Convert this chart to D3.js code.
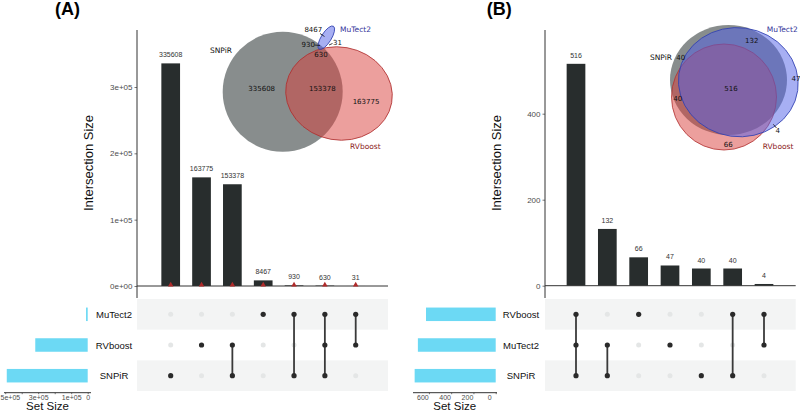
<!DOCTYPE html>
<html><head><meta charset="utf-8">
<script src="https://cdn.jsdelivr.net/npm/d3@7"></script>
<style>body{margin:0;background:#fff}svg{display:block}</style>
</head><body>
<svg id="c" width="800" height="412"></svg>
<script>
// ---------------- DATA ----------------
// Panel A
const setsA = ["MuTect2", "RVboost", "SNPiR"];
const interSizeA = [335608, 163775, 153378, 8467, 930, 630, 31];
const interMembersA = [["SNPiR"], ["RVboost"], ["RVboost", "SNPiR"], ["MuTect2"], ["MuTect2", "SNPiR"], ["MuTect2", "RVboost", "SNPiR"], ["MuTect2", "RVboost"]];
const setSizeA = [10058, 317814, 490546];
const yTicksA = [0, 100000, 200000, 300000];
const yTickLabelsA = ["0e+00", "1e+05", "2e+05", "3e+05"];
const setTicksA = [0, 100000, 200000, 300000, 400000, 500000];
const setTickLabelsA = ["0", "1e+05", "", "3e+05", "", "5e+05"];
const vennLabelsA = ["SNPiR", "MuTect2", "RVboost"];
// venn region counts A: SNPiR only, RVboost only, SNPiR&RVboost, MuTect2 only, MuTect2&SNPiR, all, MuTect2&RVboost
const vennCountsA = [335608, 163775, 153378, 8467, 930, 630, 31];

// Panel B
const setsB = ["RVboost", "MuTect2", "SNPiR"];
const interSizeB = [516, 132, 66, 47, 40, 40, 4];
const interMembersB = [["RVboost", "MuTect2", "SNPiR"], ["MuTect2", "SNPiR"], ["RVboost"], ["MuTect2"], ["SNPiR"], ["RVboost", "SNPiR"], ["RVboost", "MuTect2"]];
const setSizeB = [626, 699, 728];
const yTicksB = [0, 200, 400];
const yTickLabelsB = ["0", "200", "400"];
const setTicksB = [0, 200, 400, 600];
const setTickLabelsB = ["0", "200", "400", "600"];
const vennLabelsB = ["SNPiR", "MuTect2", "RVboost"];
// venn region counts B: all, MuTect2&SNPiR, RVboost only, MuTect2 only, SNPiR only, RVboost&SNPiR, RVboost&MuTect2
const vennCountsB = [516, 132, 66, 47, 40, 40, 4];

// ---------------- LAYOUT ----------------
const svg = d3.select("#c");
const UI = "'Liberation Sans', Arial, Helvetica, sans-serif";
const VF = "'DejaVu Sans', sans-serif";

function drawPanel(cfg, d) {
  const g = svg.append("g");
  // letter
  g.append("text").attr("x", cfg.letterX).attr("y", 14.5).text(cfg.letter)
    .attr("font-family", UI).attr("font-weight", "bold").attr("font-size", 18).attr("fill", "#000");

  // ---- intersection bars ----
  const y = d3.scaleLinear().domain([0, cfg.yRefVal]).range([cfg.y0, cfg.yRefPx]);
  const x = d3.scalePoint().domain(d3.range(d.sizes.length)).range([cfg.xFirst, cfg.xLast]);
  const bw = cfg.bw;

  // y axis
  const ax = d3.axisLeft(y).tickValues(d.yTicks).tickFormat((v, i) => d.yTickLabels[i]).tickSize(2.5).tickPadding(2);
  const axG = g.append("g").attr("transform", `translate(${cfg.ax},0)`).call(ax);
  axG.select(".domain").remove();
  axG.selectAll("line").attr("stroke", "#555").attr("stroke-width", 0.8);
  axG.selectAll("text").attr("font-family", UI).attr("font-size", 8).attr("fill", "#4d4d4d");
  g.append("line").attr("x1", cfg.ax).attr("x2", cfg.ax).attr("y1", 30).attr("y2", 298)
    .attr("stroke", "#333").attr("stroke-width", 1);

  g.selectAll("rect.bar").data(d.sizes).join("rect").attr("class", "bar")
    .attr("x", (v, i) => x(i) - bw / 2).attr("y", v => y(v))
    .attr("width", bw).attr("height", v => y(0) - y(v)).attr("fill", "#282d2d");

  g.append("line").attr("x1", cfg.ax).attr("x2", cfg.xEnd).attr("y1", y(0)).attr("y2", y(0))
    .attr("stroke", "#333").attr("stroke-width", 1);

  g.selectAll("text.blab").data(d.sizes).join("text").attr("class", "blab")
    .attr("x", (v, i) => x(i)).attr("y", v => y(v) - 6).attr("text-anchor", "middle")
    .attr("font-family", UI).attr("font-size", 7).attr("fill", "#333").text(v => v);

  if (cfg.triangles) {
    const tri = d3.symbol(d3.symbolTriangle).size(13);
    g.selectAll("path.tri").data(d.sizes).join("path").attr("class", "tri")
      .attr("d", tri).attr("transform", (v, i) => `translate(${x(i)},${y(0) - 1})`)
      .attr("fill", "#b02a2a");
  }

  // y title
  g.append("text").attr("transform", `translate(${cfg.ax - 48.3},${163}) rotate(-90)`)
    .attr("text-anchor", "middle").attr("dominant-baseline", "central")
    .attr("font-family", UI).attr("font-size", 13).attr("fill", "#111").text("Intersection Size");

  // ---- matrix ----
  const ry = d3.scalePoint().domain(d.sets).range([314.3, 375.7]);
  const half = 15.35;
  d.sets.forEach((s, i) => {
    if (i % 2 === 0) {
      g.append("rect").attr("x", cfg.ax).attr("y", ry(s) - half).attr("width", cfg.xEnd - cfg.ax)
        .attr("height", half * 2).attr("fill", "#f3f4f4");
    }
  });
  d.members.forEach((m, i) => {
    d.sets.forEach(s => {
      if (!m.includes(s)) g.append("circle").attr("cx", x(i)).attr("cy", ry(s)).attr("r", 2.5).attr("fill", "#e4e6e6");
    });
  });
  d.members.forEach((m, i) => {
    if (m.length > 1) {
      const ys = m.map(s => ry(s));
      g.append("line").attr("x1", x(i)).attr("x2", x(i)).attr("y1", d3.min(ys)).attr("y2", d3.max(ys))
        .attr("stroke", "#3a3a3a").attr("stroke-width", 1.8);
    }
    m.forEach(s => g.append("circle").attr("cx", x(i)).attr("cy", ry(s)).attr("r", 2.6).attr("fill", "#2a2a2a"));
  });

  // set labels
  g.selectAll("text.slab").data(d.sets).join("text").attr("class", "slab")
    .attr("x", cfg.setLabelX).attr("y", s => ry(s)).attr("text-anchor", "middle").attr("dominant-baseline", "central")
    .attr("font-family", UI).attr("font-size", 9.5).attr("fill", "#111").text(s => s);

  // set size bars
  const sx = d3.scaleLinear().domain([0, cfg.setMax]).range([cfg.setX0, cfg.setXMax]);
  g.selectAll("rect.sbar").data(d.setSizes).join("rect").attr("class", "sbar")
    .attr("x", v => sx(v)).attr("width", v => sx(0) - sx(v))
    .attr("y", (v, i) => ry(d.sets[i]) - 6.75).attr("height", 13.5).attr("fill", "#6cd9f4");

  const sax = d3.axisBottom(sx).tickValues(d.setTicks).tickFormat((v, i) => d.setTickLabels[i]).tickSize(1.5).tickPadding(0.6);
  const saxG = g.append("g").attr("transform", `translate(0,392.7)`).call(sax);
  saxG.select(".domain").remove();
  saxG.selectAll("line").attr("stroke", "#555").attr("stroke-width", 0.8);
  saxG.selectAll("text").attr("font-family", UI).attr("font-size", 7).attr("fill", "#4d4d4d").attr("dx", cfg.setLabelDx);
  // keep labels inside the left edge
  saxG.selectAll("text").each(function () {
    const b = this.getBBox();
    const tx = d3.select(this.parentNode).attr("transform");
    const m = /translate\(([-\d.]+)/.exec(tx);
    const gx = m ? +m[1] : 0;
    const left = gx + b.x + (+d3.select(this).attr("dx") || 0);
    if (left < 0.5) d3.select(this).attr("dx", (+d3.select(this).attr("dx") || 0) + (0.5 - left));
  });
  g.append("line").attr("x1", cfg.setAxisX0).attr("x2", cfg.setAxisX1).attr("y1", 392.7).attr("y2", 392.7)
    .attr("stroke", "#333").attr("stroke-width", 1);
  g.append("text").attr("x", cfg.setTitleX).attr("y", 409.5).attr("text-anchor", "middle")
    .attr("font-family", UI).attr("font-size", 11.5).attr("fill", "#111").text("Set Size");

  // ---- venn ----
  const vg = g.append("g");
  cfg.shapes.forEach(sh => {
    vg.append("ellipse").attr("transform", `translate(${sh.cx},${sh.cy}) rotate(${sh.rot})`)
      .attr("rx", sh.rx).attr("ry", sh.ry).attr("fill", sh.fill).attr("fill-opacity", sh.op)
      .attr("stroke", sh.stroke).attr("stroke-width", 0.8);
  });
  cfg.leaders.forEach(l => vg.append("line").attr("x1", l[0]).attr("y1", l[1]).attr("x2", l[2]).attr("y2", l[3])
    .attr("stroke", "#111").attr("stroke-width", 0.8));
  d.vennLabels.forEach((t, i) => {
    const p = cfg.setLabelPos[i];
    vg.append("text").attr("x", p[0]).attr("y", p[1]).attr("dominant-baseline", "central")
      .attr("font-family", VF).attr("font-size", 7.5).attr("fill", p[2]).text(t);
  });
  d.vennCounts.forEach((v, i) => {
    const p = cfg.countPos[i];
    vg.append("text").attr("x", p[0]).attr("y", p[1]).attr("text-anchor", p[2] || "middle").attr("dominant-baseline", "central")
      .attr("font-family", VF).attr("font-size", 7).attr("fill", "#111").text(v);
  });
}

drawPanel({
  letter: "(A)", letterX: 55, ax: 137, y0: 286, yRefVal: 300000, yRefPx: 87,
  xFirst: 170.7, xLast: 355.7, bw: 18.7, xEnd: 388, triangles: true,
  setLabelX: 114, setMax: 500000, setX0: 87.7, setXMax: 5.2, setLabelDx: 0,
  setAxisX0: 4, setAxisX1: 91, setTitleX: 47.5,
  shapes: [
    {cx: 282.7, cy: 91.7, rx: 60, ry: 60, rot: 0, fill: "#27302f", op: 0.55, stroke: "none"},
    {cx: 339, cy: 93.5, rx: 53.5, ry: 46.5, rot: 10, fill: "#d9403c", op: 0.5, stroke: "#b03030"},
    {cx: 326.3, cy: 37.7, rx: 13.5, ry: 5, rot: -58, fill: "#5060e8", op: 0.5, stroke: "#3040b0"}
  ],
  leaders: [[320, 33.5, 324.5, 36.5], [314.5, 45, 320, 45.5], [329, 45, 332.5, 43.5]],
  setLabelPos: [[210, 50, "#111"], [340, 29, "#333399"], [350, 146, "#8b2020"]],
  countPos: [[261.7, 89], [366, 101.7], [322.3, 89], [313.3, 29.7], [308.3, 44.7], [321, 55], [337.5, 43.3]]
}, {
  sets: setsA, sizes: interSizeA, members: interMembersA, setSizes: setSizeA,
  yTicks: yTicksA, yTickLabels: yTickLabelsA, setTicks: setTicksA, setTickLabels: setTickLabelsA,
  vennLabels: vennLabelsA, vennCounts: vennCountsA
});

drawPanel({
  letter: "(B)", letterX: 486.7, ax: 545, y0: 285.7, yRefVal: 400, yRefPx: 113.7,
  xFirst: 576, xLast: 764, bw: 18.7, xEnd: 795.7, triangles: false,
  setLabelX: 521, setMax: 600, setX0: 495.7, setXMax: 428.9, setLabelDx: -6.5,
  setAxisX0: 413, setAxisX1: 497, setTitleX: 454.7,
  shapes: [
    {cx: 728.5, cy: 80, rx: 58.5, ry: 55, rot: 0, fill: "#27302f", op: 0.55, stroke: "none"},
    {cx: 724, cy: 97, rx: 52.5, ry: 53, rot: 0, fill: "#d9403c", op: 0.5, stroke: "#b03030"},
    {cx: 738.3, cy: 82.2, rx: 60, ry: 54.5, rot: 8, fill: "#5060e8", op: 0.5, stroke: "#3040b0"}
  ],
  leaders: [[773.3, 124.3, 776.5, 128]],
  setLabelPos: [[650, 57, "#111"], [766.7, 29.5, "#333399"], [762.7, 146, "#8b2020"]],
  countPos: [[731, 89], [751.7, 41], [728.3, 145], [791.5, 79, "start"], [680.7, 58], [677.7, 99], [777.7, 130.5]]
}, {
  sets: setsB, sizes: interSizeB, members: interMembersB, setSizes: setSizeB,
  yTicks: yTicksB, yTickLabels: yTickLabelsB, setTicks: setTicksB, setTickLabels: setTickLabelsB,
  vennLabels: vennLabelsB, vennCounts: vennCountsB
});
</script>
</body></html>
